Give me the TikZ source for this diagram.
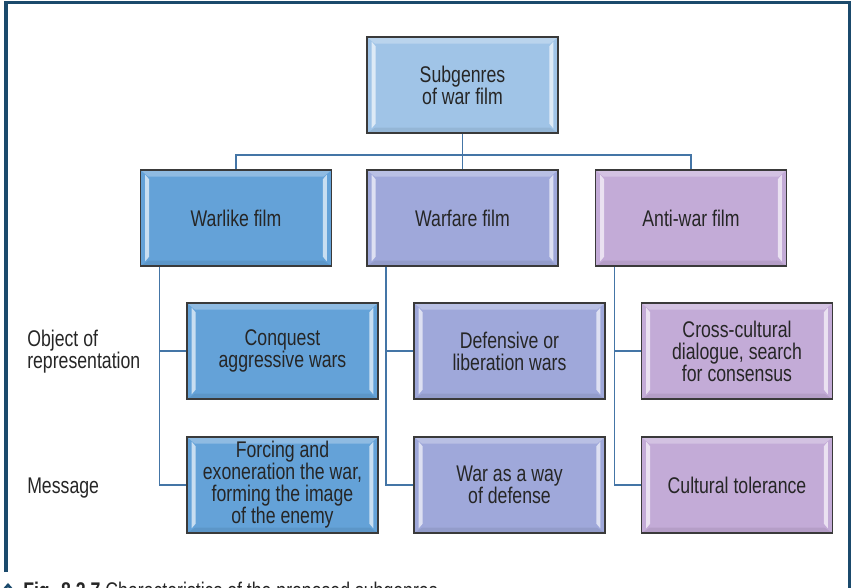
\documentclass[tikz,border=0pt]{standalone}
\usepackage{fontspec}
\setmainfont[FakeStretch=0.78]{Liberation Sans}
\usetikzlibrary{calc}
\definecolor{framec}{HTML}{1B4A6C}
\definecolor{boxline}{HTML}{3A3A3A}
\definecolor{conn}{HTML}{4475A6}
\definecolor{txt}{HTML}{262626}
\definecolor{ctop}{HTML}{A0C4E7}
\definecolor{ca}{HTML}{64A2D8}
\definecolor{cb}{HTML}{9FA8DA}
\definecolor{cc}{HTML}{C3ABD7}
\tikzset{
  box/.style={draw=boxline, line width=1.3pt, minimum width=143.25pt, minimum height=72pt,
    inner sep=0pt, align=center, text=txt, font=\fontsize{17}{16.5}\selectfont,
    path picture={
      \fill[white,opacity=0.28] (path picture bounding box.north west) -- (path picture bounding box.north east)
        -- ($(path picture bounding box.north east)+(-6pt,-5pt)$) -- ($(path picture bounding box.north west)+(6pt,-5pt)$) -- cycle;
      \fill[black,opacity=0.07] (path picture bounding box.south west) -- (path picture bounding box.south east)
        -- ($(path picture bounding box.south east)+(-6pt,4pt)$) -- ($(path picture bounding box.south west)+(6pt,4pt)$) -- cycle;
      \fill[white,opacity=0.65] ($(path picture bounding box.north west)+(3.5pt,-3.5pt)$) -- ($(path picture bounding box.north west)+(6.5pt,-7pt)$)
        -- ($(path picture bounding box.south west)+(6.5pt,7pt)$) -- ($(path picture bounding box.south west)+(3.5pt,3.5pt)$) -- cycle;
      \fill[white,opacity=0.65] ($(path picture bounding box.north east)+(-3.5pt,-3.5pt)$) -- ($(path picture bounding box.north east)+(-6.5pt,-7pt)$)
        -- ($(path picture bounding box.south east)+(-6.5pt,7pt)$) -- ($(path picture bounding box.south east)+(-3.5pt,3.5pt)$) -- cycle;
    }},
  connline/.style={draw=conn, line width=1.2pt},
  lab/.style={anchor=west, align=left, text=txt, inner sep=0pt, font=\fontsize{17}{16.5}\selectfont}
}
\begin{document}
\begin{tikzpicture}[x=0.75pt,y=-0.75pt]
\useasboundingbox (0,0) rectangle (852,588);
% frame
\draw[framec, line width=2.3pt] (6,572) -- (6,2.5) -- (849.5,2.5) -- (849.5,590);
% boxes
\node[box, fill=ctop] (top) at (462.5,85) {Subgenres\\of war film};
\node[box, fill=ca] (warlike) at (236,218) {Warlike film};
\node[box, fill=cb] (warfare) at (462.5,218) {Warfare film};
\node[box, fill=cc] (antiwar) at (691,218) {Anti-war film};
\node[box, fill=ca] (conquest) at (282.5,351) {Conquest\\aggressive wars};
\node[box, fill=cb] (defensive) at (509.5,351) {Defensive or\\liberation wars};
\node[box, fill=cc] (cross) at (737,351) {Cross-cultural\\dialogue, search\\for consensus};
\node[box, fill=ca] (forcing) at (282.5,485) {Forcing and\\exoneration the war,\\forming the image\\of the enemy};
\node[box, fill=cb] (wardef) at (509.5,485) {War as a way\\of defense};
\node[box, fill=cc] (tolerance) at (737,485) {Cultural tolerance};
% labels
\node[lab] (objlab) at (27,352) {Object of\\representation};
\node[lab] (msglab) at (27,488) {Message};
% connectors
\coordinate (bus) at (462.5,155);
\draw[connline] (top.south) -- (warfare.north);
\draw[connline] (warlike.north) |- (bus) -| (antiwar.north);
\coordinate (ta) at ([xshift=15pt]warlike.south west);
\coordinate (tb) at ([xshift=15pt]warfare.south west);
\coordinate (tc) at ([xshift=15pt]antiwar.south west);
\draw[connline] (ta) |- (forcing.west);
\draw[connline] (ta) |- (conquest.west);
\draw[connline] (tb) |- (wardef.west);
\draw[connline] (tb) |- (defensive.west);
\draw[connline] (tc) |- (tolerance.west);
\draw[connline] (tc) |- (cross.west);
% caption (cut off by the page edge, as in the reference)
\begin{scope}
\clip (0,0) rectangle (852,588);
\draw[framec, line width=2pt] (1,593) -- (8,585) -- (15,593);
\node[anchor=base west, inner sep=0pt, text=txt, font=\fontsize{17}{16.5}\selectfont] (cap) at (23,598)
  {\textbf{Fig. 8.2.7} Characteristics of the proposed subgenres};
\end{scope}
\end{tikzpicture}
\end{document}
